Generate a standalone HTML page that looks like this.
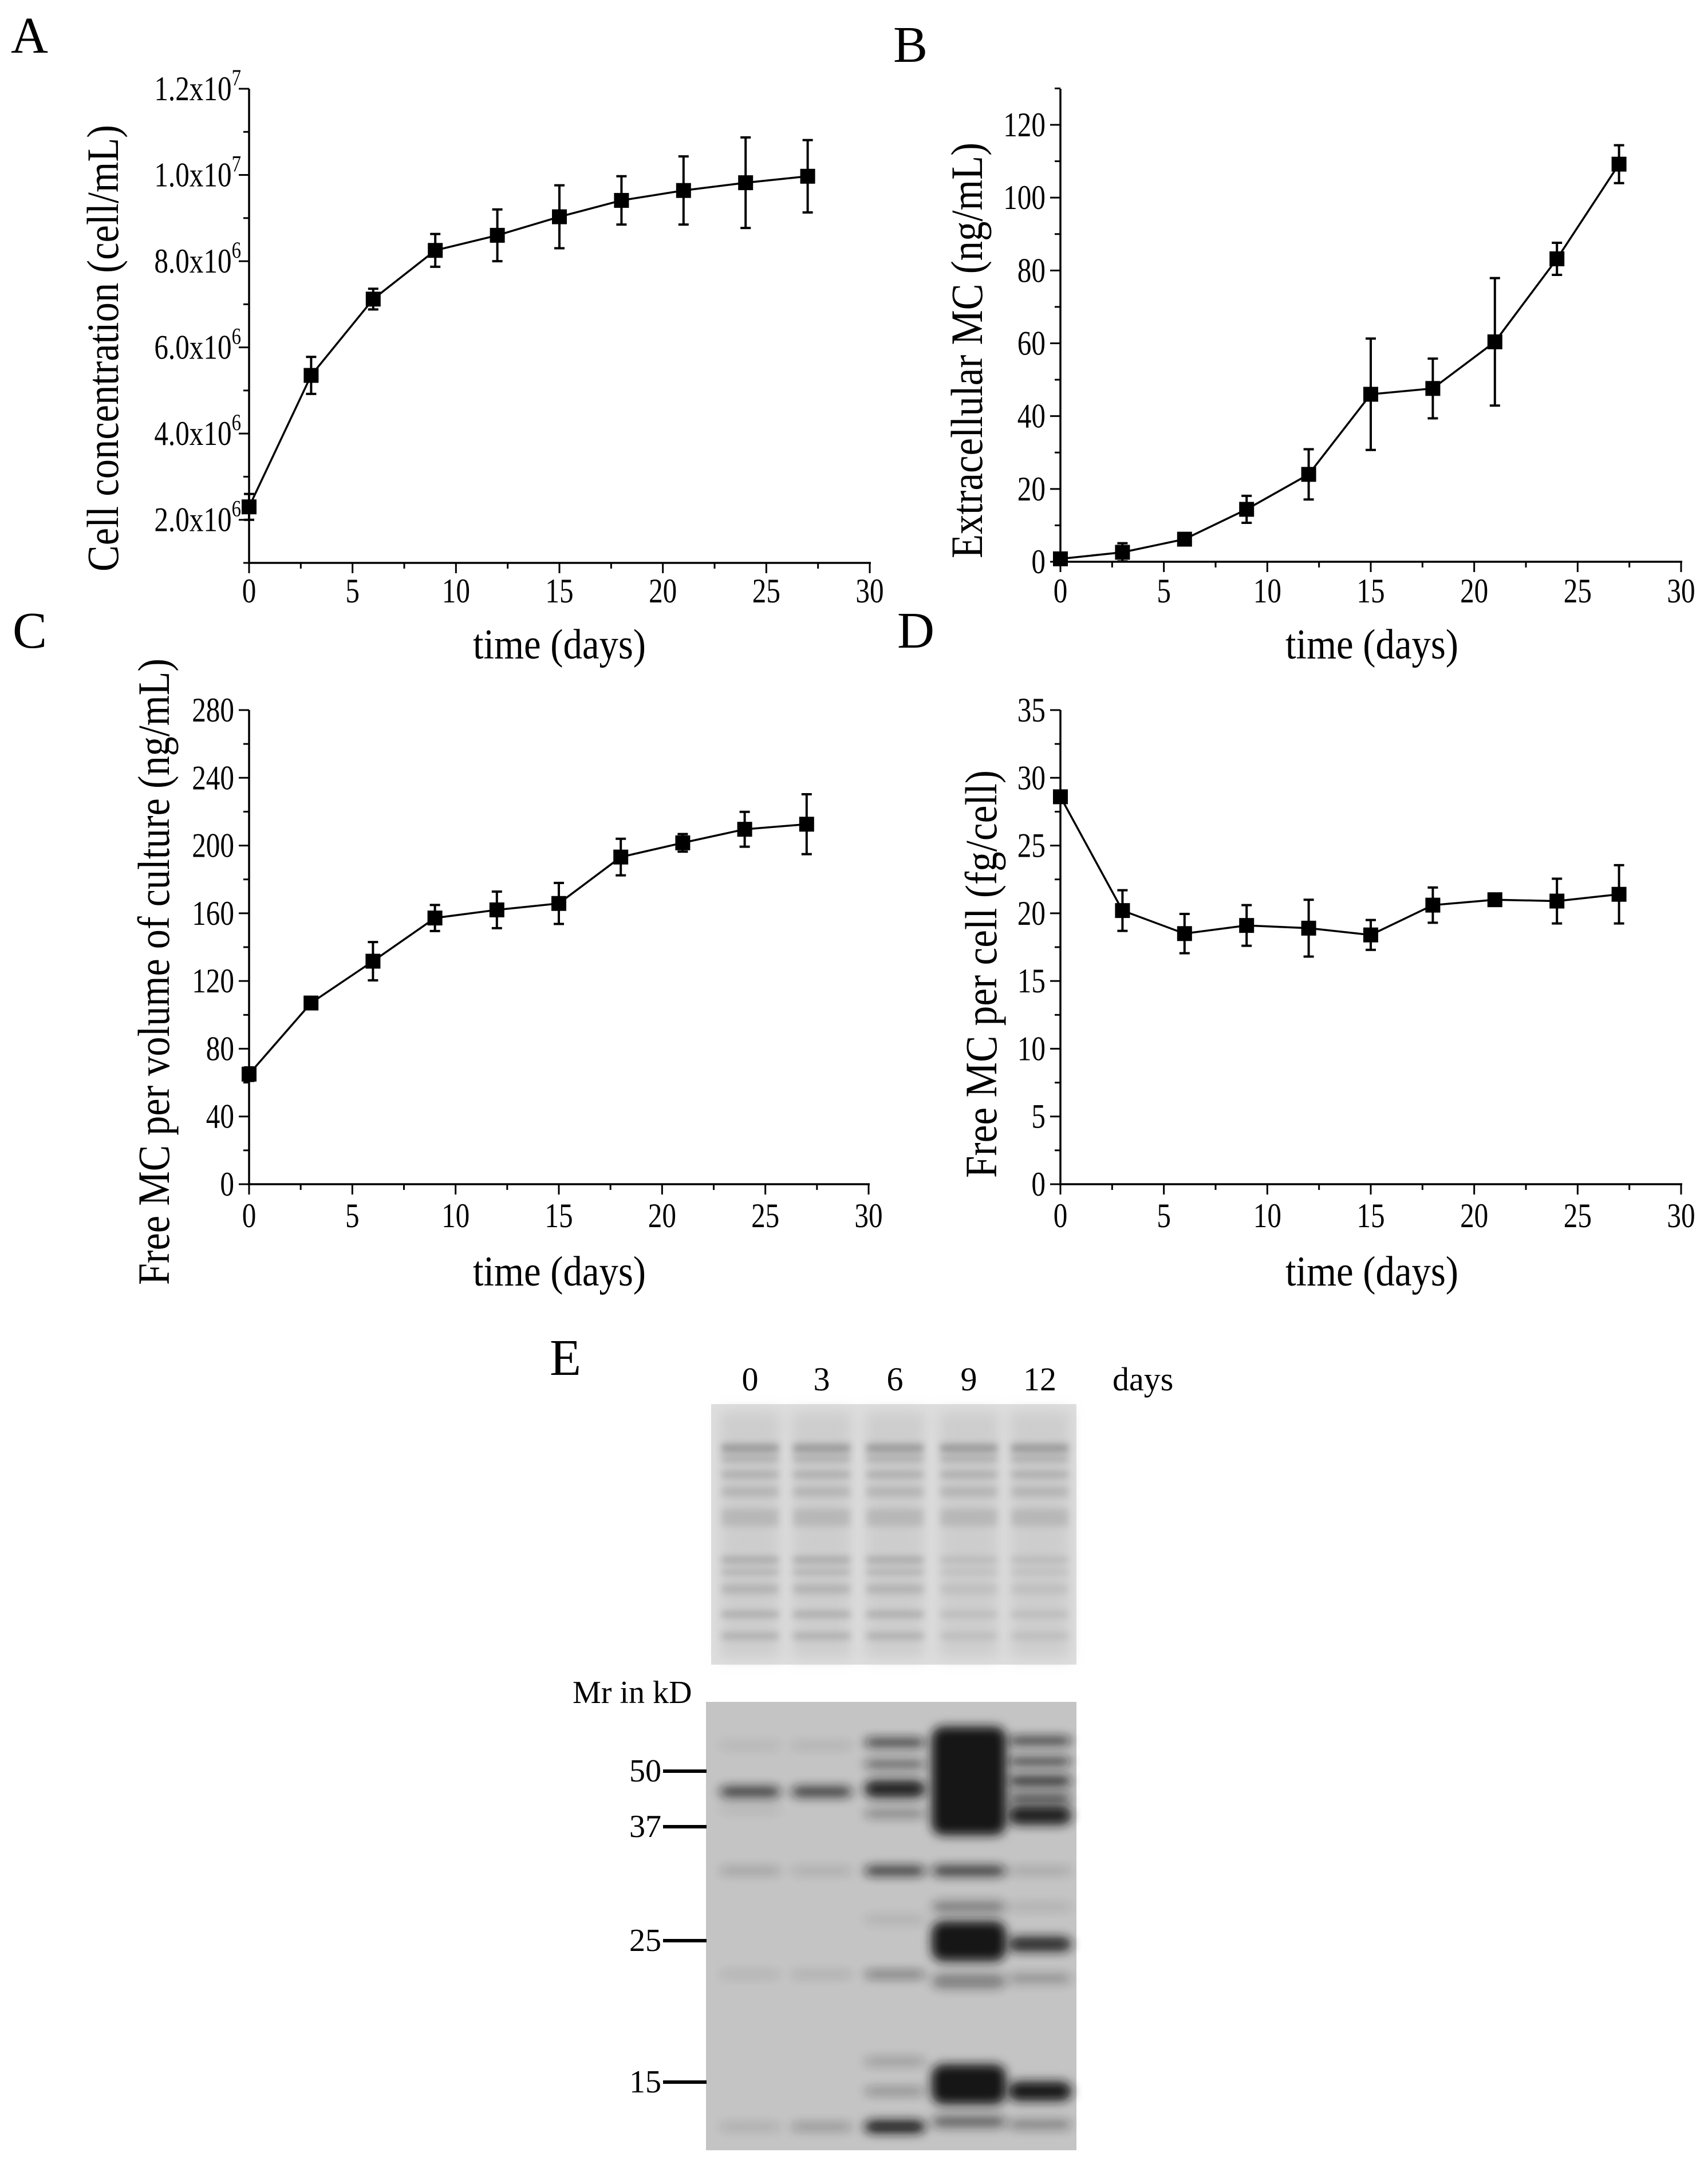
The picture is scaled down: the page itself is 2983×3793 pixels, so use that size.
<!DOCTYPE html>
<html><head><meta charset="utf-8"><style>
html,body{margin:0;padding:0;background:#fff;}
svg{display:block;}
text{font-family:"Liberation Serif",serif;fill:#000;}
</style></head><body>
<svg id="fig" width="2983" height="3793" viewBox="0 0 2983 3793" xmlns="http://www.w3.org/2000/svg">
<defs>
<filter id="blur6" x="-30%" y="-300%" width="160%" height="700%"><feGaussianBlur stdDeviation="9"/></filter>
<filter id="blur3" x="-30%" y="-300%" width="160%" height="700%"><feGaussianBlur stdDeviation="6"/></filter>
<filter id="blur10" x="-30%" y="-50%" width="160%" height="200%"><feGaussianBlur stdDeviation="12"/></filter>
</defs>
<text x="19" y="92" font-size="90">A</text>
<text x="1560" y="108" font-size="90">B</text>
<text x="22" y="1131" font-size="90">C</text>
<text x="1567" y="1131" font-size="90">D</text>
<text x="960" y="2401" font-size="90">E</text>
<g id="charts"></g>
<g id="gel"></g>
</svg>
<script>
// ---- data ----
const days = [0, 3, 6, 9, 12, 15, 18, 21, 24, 27];
const cellConc = [2.3e6, 5.35e6, 7.12e6, 8.25e6, 8.6e6, 9.03e6, 9.41e6, 9.64e6, 9.82e6, 9.97e6];
const cellConcErr = [0.3e6, 0.43e6, 0.24e6, 0.38e6, 0.6e6, 0.73e6, 0.56e6, 0.79e6, 1.05e6, 0.84e6];
const extraMC = [0.8, 2.6, 6.2, 14.4, 24, 46, 47.6, 60.4, 83.2, 109.2];
const extraMCErr = [0, 2.5, 0.8, 3.7, 6.9, 15.3, 8.2, 17.5, 4.4, 5.2];
const freeVol = [65, 107, 131.7, 157.2, 162, 165.8, 193.2, 201.6, 209.6, 212.6];
const freeVolErr = [4, 2, 11.3, 7.7, 10.8, 12.1, 10.8, 5.2, 10.3, 17.7];
const freeCell = [28.6, 20.2, 18.5, 19.1, 18.9, 18.4, 20.6, 21.0, 20.9, 21.4];
const freeCellErr = [0, 1.5, 1.45, 1.5, 2.1, 1.1, 1.3, 0.2, 1.65, 2.15];
const xTicks = [0, 5, 10, 15, 20, 25, 30];
const yTicksA = [2e6, 4e6, 6e6, 8e6, 1e7, 1.2e7];
const yTickLabelsA = [["2.0x10","6"],["4.0x10","6"],["6.0x10","6"],["8.0x10","6"],["1.0x10","7"],["1.2x10","7"]];
const yTicksB = [0, 20, 40, 60, 80, 100, 120];
const yTicksC = [0, 40, 80, 120, 160, 200, 240, 280];
const yTicksD = [0, 5, 10, 15, 20, 25, 30, 35];

const NS = "http://www.w3.org/2000/svg";
function mk(tag, attrs, parent){
  const e = document.createElementNS(NS, tag);
  for (const k in attrs) e.setAttribute(k, attrs[k]);
  if (parent) parent.appendChild(e);
  return e;
}
const charts = document.getElementById('charts');

function drawChart(cfg, ys, errs, yTicks, yLabels){
  const g = mk('g', {}, charts);
  
  
  const sx = v => cfg.x0 + (v - 0) / 30 * (cfg.x1 - cfg.x0);
  const sy = v => cfg.yb - (v - cfg.ymin) / (cfg.ymax - cfg.ymin) * (cfg.yb - cfg.yt);
  const ax = mk('line', {x1: cfg.x0, y1: cfg.yb, x2: cfg.x1 + 2, y2: cfg.yb, stroke: '#000', 'stroke-width': 3.5}, g);
  
  
  const ay = mk('line', {x1: cfg.x0, y1: cfg.yb + 2, x2: cfg.x0, y2: cfg.ytop, stroke: '#000', 'stroke-width': 3.5}, g);
  
  
  for (let v = 0; v <= 30; v += 2.5){
    const major = v % 5 === 0;
    mk('line', {x1: sx(v), y1: cfg.yb, x2: sx(v), y2: cfg.yb + (major ? 18 : 10), stroke: '#000', 'stroke-width': 3}, g);
  }
  xTicks.forEach(v => {
    const t = mk('text', {'font-size': 60, 'text-anchor': 'middle', transform: `translate(${sx(v)},${cfg.xlabY}) scale(0.82,1)`}, g);
    t.textContent = String(v);
    
    
  });
  const step = yTicks[1] - yTicks[0];
  for (let v = cfg.ymin; v <= cfg.ymaxAxis + 1e-6; v += step / 2){
    const rel = Math.round((v - yTicks[0]) / (step / 2));
    const major = rel % 2 === 0;
    mk('line', {x1: cfg.x0, y1: sy(v), x2: cfg.x0 - (major ? 18 : 10), y2: sy(v), stroke: '#000', 'stroke-width': 3}, g);
  }
  yTicks.forEach((v, i) => {
    const t = mk('text', {'font-size': 60, 'text-anchor': 'end', transform: `translate(${cfg.x0 - 26},${sy(v) + 20}) scale(0.82,1)`}, g);
    
    
    if (yLabels){
      t.setAttribute('transform', `translate(${cfg.x0 - 14},${sy(v) + 20}) scale(0.82,1)`);
      t.textContent = yLabels[i][0];
      const s = mk('tspan', {'font-size': 40, dy: -26}, t);
      s.textContent = yLabels[i][1];
    } else {
      t.textContent = String(v);
    }
  });
  const xt = mk('text', {x: cfg.xtX, y: cfg.xtY, 'font-size': 74, textLength: 302, lengthAdjust: 'spacingAndGlyphs'}, g);
  xt.textContent = 'time (days)';
  
  
  const yt = mk('text', {x: 0, y: 0, 'font-size': 78, textLength: cfg.ytLen, lengthAdjust: 'spacingAndGlyphs', transform: `translate(${cfg.ytX},${cfg.ytY}) rotate(-90)`}, g);
  yt.textContent = cfg.ytitle;
  
  
  const pts = days.map((d, i) => `${sx(d)},${sy(ys[i])}`).join(' ');
  const pl = mk('polyline', {points: pts, fill: 'none', stroke: '#000', 'stroke-width': 3.5}, g);
  
  
  days.forEach((d, i) => {
    const x = sx(d), y = sy(ys[i]);
    if (errs[i] > 0){
      const e = mk('g', {stroke: '#000', 'stroke-width': 4}, g);
      
      
      const yh = sy(ys[i] + errs[i]), yl = sy(ys[i] - errs[i]);
      mk('line', {x1: x, y1: yh, x2: x, y2: yl}, e);
      mk('line', {x1: x - 9, y1: yh, x2: x + 9, y2: yh}, e);
      mk('line', {x1: x - 9, y1: yl, x2: x + 9, y2: yl}, e);
    }
    const m = mk('rect', {x: x - 13, y: y - 13, width: 26, height: 26, fill: '#000'}, g);
    
    
  });
}

drawChart({name:'chart-a-cell-concentration', x0:435, x1:1519, yb:983, yt:155, ytop:155, ymin:1e6, ymax:1.2e7, ymaxAxis:1.2e7,
  xlabY:1052, xtX:826, xtY:1150, ytX:206, ytY:998, ytLen:780, ytitle:'Cell concentration (cell/mL)'},
  cellConc, cellConcErr, yTicksA, yTickLabelsA);
drawChart({name:'chart-b-extracellular-mc', x0:1852, x1:2936, yb:981, yt:218, ytop:155, ymin:0, ymax:120, ymaxAxis:130,
  xlabY:1052, xtX:2245, xtY:1150, ytX:1715, ytY:975, ytLen:726, ytitle:'Extracellular MC (ng/mL)'},
  extraMC, extraMCErr, yTicksB, null);
drawChart({name:'chart-c-free-mc-per-volume', x0:435, x1:1517, yb:2068, yt:1240, ytop:1240, ymin:0, ymax:280, ymaxAxis:280,
  xlabY:2143, xtX:826, xtY:2245, ytX:295, ytY:2244, ytLen:1094, ytitle:'Free MC per volume of culture (ng/mL)'},
  freeVol, freeVolErr, yTicksC, null);
drawChart({name:'chart-d-free-mc-per-cell', x0:1852, x1:2936, yb:2068, yt:1240, ytop:1240, ymin:0, ymax:35, ymaxAxis:35,
  xlabY:2143, xtX:2245, xtY:2245, ytX:1740, ytY:2057, ytLen:712, ytitle:'Free MC per cell (fg/cell)'},
  freeCell, freeCellErr, yTicksD, null);

// ---- gel panel E ----
const gel = document.getElementById('gel');
const laneX = [1310, 1435, 1563, 1692, 1816];
const laneLabels = ['0', '3', '6', '9', '12'];
laneLabels.forEach((l, i) => {
  const t = mk('text', {x: laneX[i], y: 2428, 'font-size': 58, 'text-anchor': 'middle'}, gel);
  t.textContent = l;
  
  
});
const dt = mk('text', {x: 1943, y: 2428, 'font-size': 58}, gel);
dt.textContent = 'days';



const tg = mk('g', {}, gel);


mk('rect', {x: 1242, y: 2452, width: 638, height: 455, fill: '#dedede'}, tg);
const topBands = [[2529,0.45,14],[2548,0.3,10],[2575,0.25,14],[2605,0.2,18],[2650,0.18,30],[2724,0.35,10],[2745,0.25,10],[2775,0.22,16],[2819,0.35,9],[2857,0.3,10]];
laneX.forEach((x, li) => {
  mk('rect', {x: x - 52, y: 2465, width: 104, height: 430, fill: '#cdcdcd', filter: 'url(#blur10)'}, tg);
  topBands.forEach(b => {
    const fade = (li >= 3 && b[0] > 2700) ? 0.55 : 1;
    mk('rect', {x: x - 50, y: b[0] - b[2]/2, width: 100, height: b[2], fill: '#555', opacity: b[1]*fade, filter: 'url(#blur3)'}, tg);
  });
});

const bg = mk('g', {}, gel);


mk('rect', {x: 1233, y: 2972, width: 647, height: 783, fill: '#c4c4c4'}, bg);
const blotBands = [
 [0,3048,10,0.12],[0,3129,18,0.8],[0,3160,10,0.12],[0,3267,12,0.25],[0,3448,8,0.18],[0,3714,10,0.2],
 [1,3048,10,0.15],[1,3129,18,0.8],[1,3267,10,0.2],[1,3448,8,0.22],[1,3714,10,0.4],
 [2,3043,14,0.85],[2,3081,16,0.55],[2,3124,30,0.95],[2,3167,14,0.4],[2,3267,16,0.85],[2,3352,14,0.12],[2,3448,10,0.6],[2,3600,12,0.3],[2,3652,10,0.45],[2,3714,22,1],
 [3,3110,190,1],[3,3267,18,0.8],[3,3330,20,0.4],[3,3390,70,1],[3,3460,25,0.4],[3,3640,70,1],[3,3705,20,0.55],
 [4,3040,14,0.85],[4,3076,14,0.8],[4,3110,18,0.85],[4,3140,16,0.7],[4,3170,34,0.95],[4,3267,10,0.25],[4,3330,10,0.18],[4,3395,26,0.9],[4,3455,18,0.28],[4,3652,34,1],[4,3710,16,0.4]
];
blotBands.forEach(b => {
  const x = laneX[b[0]];
  const w = b[0] === 3 ? 130 : (b[0] === 4 ? 112 : 108);
  const r = mk('rect', {x: x - w/2, y: b[1] - b[2]/2, width: w, height: b[2], rx: 20, fill: '#151515', opacity: b[3], filter: 'url(#blur6)'}, bg);
  
  
});
const mrt = mk('text', {x: 1000, y: 2974, 'font-size': 56}, gel);
mrt.textContent = 'Mr in kD';


const markers = [[50,3093],[37,3190],[25,3389],[15,3636]];
markers.forEach(m => {
  const t = mk('text', {x: 1155, y: m[1] + 18, 'font-size': 56, 'text-anchor': 'end'}, gel);
  t.textContent = String(m[0]);
  
  
  const l = mk('line', {x1: 1158, y1: m[1], x2: 1234, y2: m[1], stroke: '#000', 'stroke-width': 6}, gel);
  
  
});
</script>
</body></html>
